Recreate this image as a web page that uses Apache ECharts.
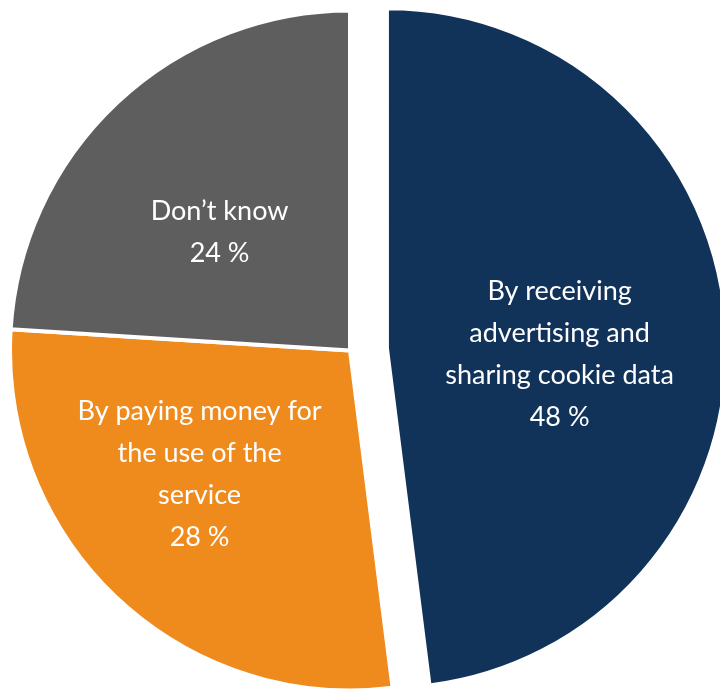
<!DOCTYPE html>
<html>
<head>
<meta charset="utf-8">
<script src="https://cdn.jsdelivr.net/npm/echarts@6/dist/echarts.min.js"></script>
<style>
  html, body { margin: 0; padding: 0; background: #ffffff; }
  #chart { width: 720px; height: 690px; }
</style>
</head>
<body>
<div id="chart"></div>
<script>
// How users would prefer to pay for online services
const categories = [
  'By receiving\nadvertising and\nsharing cookie data',
  'By paying money for\nthe use of the\nservice',
  'Don\u2019t know'
];
const shares = [48, 28, 24];
const colors = ['#11335a', '#ef8a1d', '#5e5e5e'];
const highlighted = [true, false, false];

// Fine-tune where each inside label sits, in pixels
const labelShift = [
  { dx: 0, dy: 17 },
  { dx: -32, dy: -2 },
  { dx: -12, dy: 8 }
];

const chart = echarts.init(document.getElementById('chart'), null, { renderer: 'canvas' });

chart.setOption({
  animation: false,
  backgroundColor: '#ffffff',
  series: [{
    type: 'pie',
    center: [350, 350.5],
    radius: 340,
    startAngle: 90,
    clockwise: true,
    silent: true,
    selectedMode: 'single',
    selectedOffset: 37,
    avoidLabelOverlap: false,
    itemStyle: { borderColor: '#ffffff', borderWidth: 4 },
    label: {
      show: true,
      position: 'inside',
      color: '#ffffff',
      fontFamily: 'Lato',
      fontSize: 27,
      lineHeight: 42,
      align: 'center',
      formatter: p => p.name + '\n' + p.value + ' %'
    },
    labelLine: { show: false },
    labelLayout: p => labelShift[p.dataIndex],
    data: categories.map((name, i) => ({
      name: name,
      value: shares[i],
      selected: highlighted[i],
      itemStyle: { color: colors[i] }
    }))
  }]
});
</script>
</body>
</html>
